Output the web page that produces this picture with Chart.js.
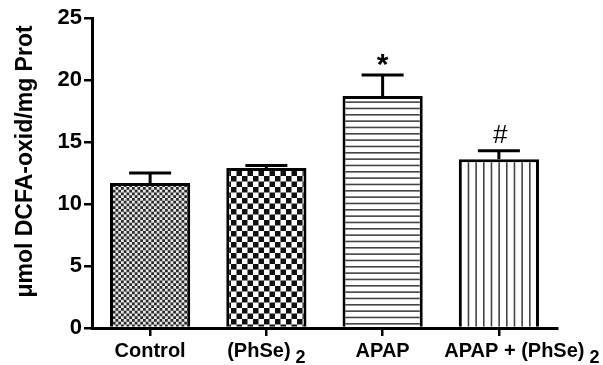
<!DOCTYPE html>
<html>
<head>
<meta charset="utf-8">
<script src="https://cdn.jsdelivr.net/npm/chart.js@4"></script>
<style>
  html, body { margin: 0; padding: 0; background: #ffffff; }
  #wrap { width: 603px; height: 365px; }
</style>
</head>
<body>
<div id="wrap"><canvas id="c" width="603" height="365"></canvas></div>
<script>
// Groups (text after "_" is written as a subscript)
const categories = ['Control', '(PhSe)_2', 'APAP', 'APAP + (PhSe)_2'];
// DCFA oxidation, mean and SEM
const means = [11.7, 12.9, 18.7, 13.6];
const sems = [0.8, 0.2, 1.7, 0.7];
// Significance marks above the error bars
const marks = ['', '', '*', '#'];
const yTicks = [0, 5, 10, 15, 20, 25];

const FONT = '"Liberation Sans", Arial, Helvetica, sans-serif';

function checkerPattern(cell, dark, light) {
  const size = Math.round(cell * 4);
  const c = document.createElement('canvas');
  c.width = size; c.height = size;
  const g = c.getContext('2d');
  g.fillStyle = light; g.fillRect(0, 0, size, size);
  g.fillStyle = dark;
  for (let r = 0; r < 4; r++) {
    for (let k = 0; k < 4; k++) {
      if ((r + k) % 2 === 0) g.fillRect(k * cell, r * cell, cell, cell);
    }
  }
  return g.createPattern(c, 'repeat');
}

function stripePattern(horizontal, period, thick, color) {
  const len = Math.round(period * 3);
  const c = document.createElement('canvas');
  c.width = horizontal ? 4 : len;
  c.height = horizontal ? len : 4;
  const g = c.getContext('2d');
  g.fillStyle = '#ffffff'; g.fillRect(0, 0, c.width, c.height);
  g.fillStyle = color;
  for (let i = 0; i < 3; i++) {
    const p = i * len / 3;
    if (horizontal) g.fillRect(0, p, c.width, thick);
    else g.fillRect(p, 0, thick, c.height);
  }
  return g.createPattern(c, 'repeat');
}

const fills = [
  checkerPattern(2.75, '#2a2a2a', '#e8e8e8'),
  checkerPattern(5.5, '#111111', '#ffffff'),
  stripePattern(true, 6.33, 1.6, '#444444'),
  stripePattern(false, 7.67, 1.6, '#444444')
];

// Upward error bars and significance marks
const errorBars = {
  id: 'errorBars',
  afterDatasetsDraw(chart) {
    const ctx = chart.ctx;
    const y = chart.scales.y;
    const meta = chart.getDatasetMeta(0);
    ctx.save();
    ctx.strokeStyle = '#000';
    ctx.lineWidth = 3;
    meta.data.forEach((bar, i) => {
      const x = bar.x;
      const top = y.getPixelForValue(means[i]);
      const cap = y.getPixelForValue(means[i] + sems[i]);
      ctx.beginPath();
      ctx.moveTo(x, top);
      ctx.lineTo(x, cap);
      ctx.moveTo(x - 21, cap);
      ctx.lineTo(x + 21, cap);
      ctx.stroke();
      ctx.fillStyle = '#000';
      ctx.textAlign = 'center';
      ctx.textBaseline = 'alphabetic';
      if (marks[i] === '*') {
        ctx.font = 'bold 30px ' + FONT;
        ctx.fillText('*', x, cap - 1);
      } else if (marks[i] === '#') {
        ctx.font = 'italic 26px ' + FONT;
        ctx.fillText('#', x + 1, cap - 7.5);
      }
    });
    ctx.restore();
  }
};

// Category labels with subscripts, and the y-axis title
const axisText = {
  id: 'axisText',
  afterDraw(chart, args, opts) {
    const ctx = chart.ctx;
    const xs = chart.scales.x;
    ctx.save();
    ctx.fillStyle = '#000';
    ctx.textBaseline = 'alphabetic';
    ctx.textAlign = 'left';
    categories.forEach((lab, i) => {
      const parts = lab.split('_');
      const main = parts[0];
      const sub = parts[1] || '';
      ctx.font = 'bold 20px ' + FONT;
      const wm = ctx.measureText(main).width;
      ctx.font = 'bold 18px ' + FONT;
      const ws = sub ? ctx.measureText(sub).width : 0;
      const gap = sub ? 5 : 0;
      const total = wm + gap + ws;
      const x0 = xs.getPixelForTick(i) - total / 2 + (opts.shift[i] || 0);
      ctx.font = 'bold 20px ' + FONT;
      ctx.fillText(main, x0, 357);
      if (sub) {
        ctx.font = 'bold 18px ' + FONT;
        ctx.fillText(sub, x0 + wm + gap, 363);
      }
    });
    // y title
    ctx.translate(32, 161.5);
    ctx.rotate(-Math.PI / 2);
    ctx.textAlign = 'center';
    ctx.font = 'bold 23px ' + FONT;
    ctx.fillText('\u03bcmol DCFA-oxid/mg Prot', 0, 0);
    ctx.restore();
  }
};

new Chart(document.getElementById('c'), {
  type: 'bar',
  data: {
    labels: categories,
    datasets: [{
      data: means,
      backgroundColor: fills,
      borderColor: '#000',
      borderWidth: 3,
      borderSkipped: 'start',
      barPercentage: 0.69,
      categoryPercentage: 1.0
    }]
  },
  options: {
    responsive: false,
    animation: false,
    devicePixelRatio: 1,
    layout: { padding: { top: 18, right: 46, bottom: 0, left: 0 } },
    plugins: {
      legend: { display: false },
      tooltip: { enabled: false },
      axisText: { shift: [0, 0, 0, 23] }
    },
    scales: {
      x: {
        offset: true,
        grid: {
          offset: false,
          drawOnChartArea: false,
          drawTicks: true,
          tickLength: 8,
          color: '#000',
          lineWidth: 2.5
        },
        border: { display: true, color: '#000', width: 3 },
        ticks: { display: false },
        afterFit(scale) { scale.height = 37; }
      },
      y: {
        min: 0,
        max: 25,
        afterBuildTicks(scale) { scale.ticks = yTicks.map(v => ({ value: v })); },
        grid: {
          drawOnChartArea: false,
          drawTicks: true,
          tickLength: 8,
          color: '#000',
          lineWidth: 2.5
        },
        border: { display: true, color: '#000', width: 3 },
        ticks: {
          color: '#000',
          padding: 2,
          font: { family: FONT, size: 22, weight: 'bold' }
        },
        afterFit(scale) { scale.width = 92; }
      }
    }
  },
  plugins: [errorBars, axisText]
});
</script>
</body>
</html>
